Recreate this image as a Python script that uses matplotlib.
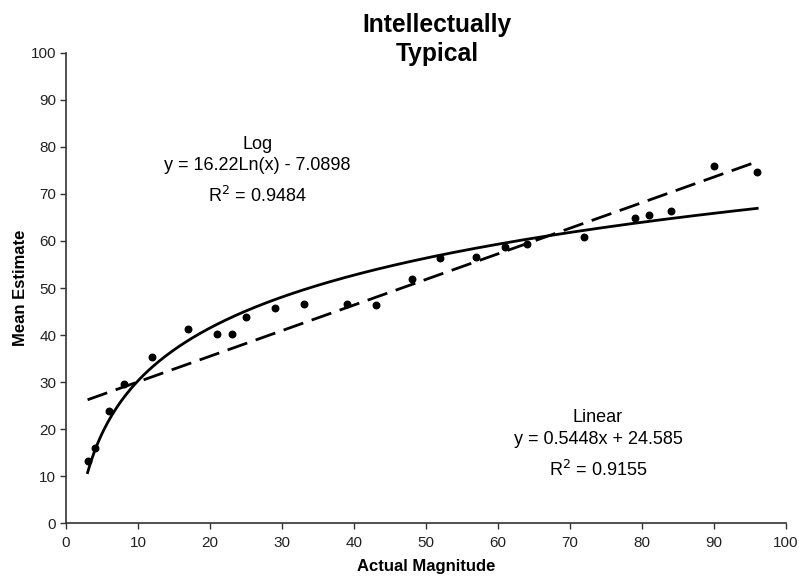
import numpy as np
import matplotlib
matplotlib.use('Agg')
import matplotlib.pyplot as plt

plt.rcParams['font.family'] = ['Liberation Sans', 'DejaVu Sans']

# Data
actual = [3, 4, 6, 8, 12, 17, 21, 23, 25, 29, 33, 39, 43, 48, 52, 57, 61, 64, 72, 79, 81, 84, 90, 96]
estimate = [13.1, 16.0, 23.8, 29.5, 35.4, 41.3, 40.3, 40.3, 43.9, 45.7, 46.5, 46.5, 46.3, 52.0,
            56.4, 56.7, 58.8, 59.4, 60.8, 64.8, 65.6, 66.3, 76.0, 74.7]

# Trendline coefficients as printed on the chart
log_a, log_b, log_r2 = 16.22, -7.0898, 0.9484
lin_m, lin_c, lin_r2 = 0.5448, 24.585, 0.9155

fig = plt.figure(figsize=(7.99, 5.76), dpi=100)
ax = fig.add_axes([0.0826, 0.092, 0.9011, 0.816])

xs = np.linspace(min(actual), max(actual), 300)
ax.plot(xs, log_a * np.log(xs) + log_b, color='black', lw=2.0)
ax.plot(xs, lin_m * xs + lin_c, color='black', lw=2.0, dashes=(7.5, 3.2))
ax.scatter(actual, estimate, s=22, color='black', zorder=3)

ax.set_xlim(0, 100)
ax.set_ylim(0, 100)
ax.set_xticks(range(0, 101, 10))
ax.set_yticks(range(0, 101, 10))
for side in ('top', 'right'):
    ax.spines[side].set_visible(False)
for side in ('left', 'bottom'):
    ax.spines[side].set_color('#333333')
    ax.spines[side].set_linewidth(1.2)
ax.tick_params(length=4, width=1.0, color='#333333', labelsize=11, labelcolor='#222222')
ax.tick_params(axis='x', pad=5)
ax.tick_params(axis='y', pad=3)

ax.set_xlabel('Actual Magnitude', fontsize=12, fontweight='bold', labelpad=7)
ax.set_ylabel('Mean Estimate', fontsize=12, fontweight='bold', labelpad=2)

fig.text(0.547, 0.932, 'Intellectually\nTypical', ha='center', va='center',
         fontsize=17.7, fontweight='bold', linespacing=1.25)

fs = 13
ax.text(26.6, 79.6, 'Log', ha='center', va='baseline', fontsize=fs)
ax.text(26.6, 75.1, 'y = 16.22Ln(x) - 7.0898', ha='center', va='baseline', fontsize=fs)
ax.text(26.6, 68.2, r'R$^2$ = %.4f' % log_r2, ha='center', va='baseline', fontsize=fs)

ax.text(73.9, 21.5, 'Linear', ha='center', va='baseline', fontsize=fs)
ax.text(73.9, 16.9, 'y = 0.5448x + 24.585', ha='center', va='baseline', fontsize=fs)
ax.text(73.9, 10.0, r'R$^2$ = %.4f' % lin_r2, ha='center', va='baseline', fontsize=fs)

fig.savefig('out.png', dpi=100)
